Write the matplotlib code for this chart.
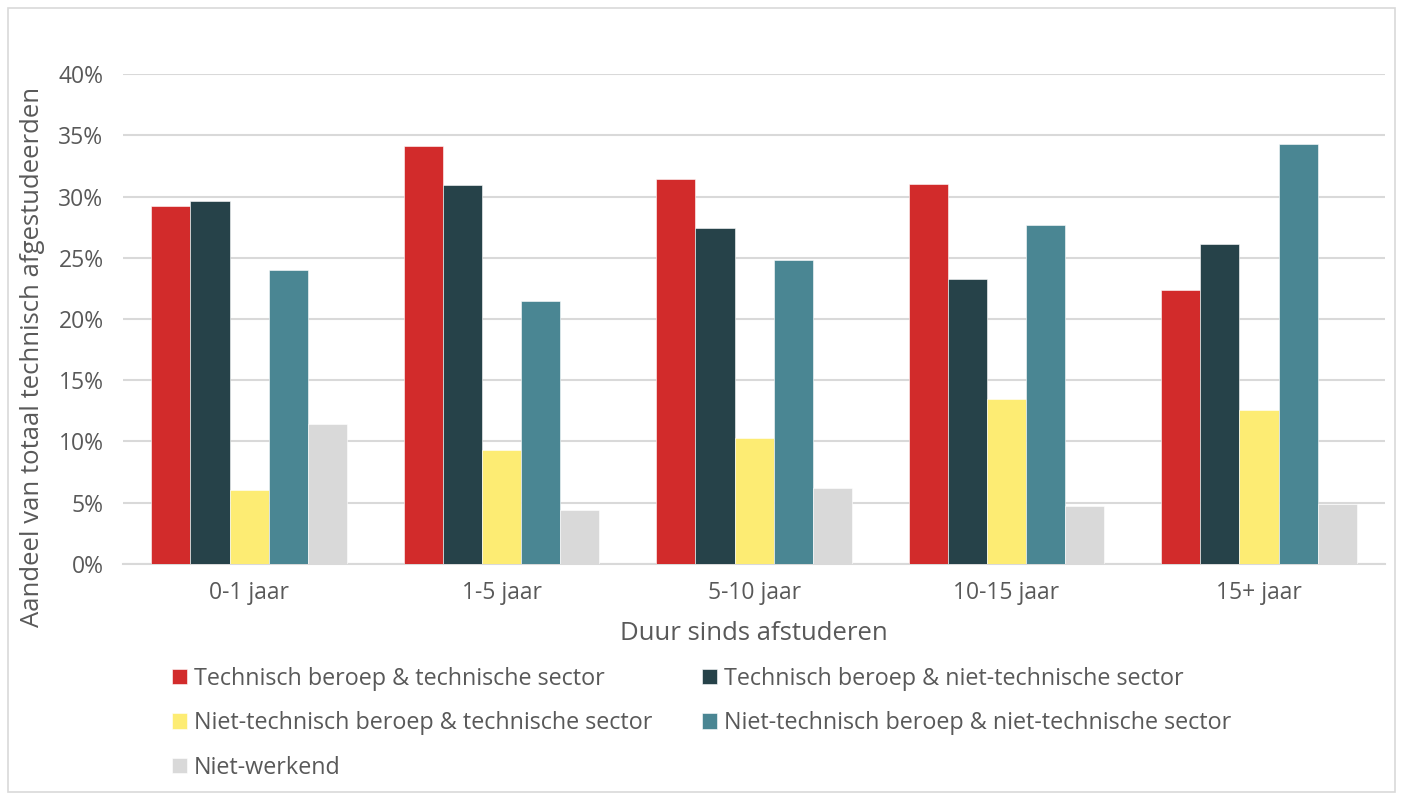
import numpy as np
import matplotlib.pyplot as plt
from matplotlib.patches import Rectangle

plt.rcParams['font.family'] = ['Open Sans', 'DejaVu Sans']

categories = ["0-1 jaar", "1-5 jaar", "5-10 jaar", "10-15 jaar", "15+ jaar"]
series_names = [
    "Technisch beroep & technische sector",
    "Technisch beroep & niet-technische sector",
    "Niet-technisch beroep & technische sector",
    "Niet-technisch beroep & niet-technische sector",
    "Niet-werkend",
]
tech_tech = [29.2, 34.1, 31.4, 31.0, 22.4]
tech_niet = [29.6, 30.9, 27.4, 23.3, 26.1]
niet_tech = [6.0, 9.3, 10.3, 13.5, 12.6]
niet_niet = [24.0, 21.5, 24.8, 27.7, 34.3]
niet_werkend = [11.4, 4.4, 6.2, 4.7, 4.9]
colors = ["#D22B2B", "#264249", "#FDEC73", "#4A8693", "#D9D9D9"]

series = [tech_tech, tech_niet, niet_tech, niet_niet, niet_werkend]
text_col = "#595959"

fig = plt.figure(figsize=(14.02, 7.96), dpi=100)
ax = fig.add_axes([0.0877, 0.2915, 0.9003, 0.6155])

x = np.arange(len(categories))
w = 0.155
handles = []
for i, (vals, c) in enumerate(zip(series, colors)):
    b = ax.bar(x + (i - 2) * w, vals, w, color=c, edgecolor="white", linewidth=0.4,
               label=series_names[i], zorder=3)
    handles.append(b)

ax.set_xlim(-0.5, 4.5)
ax.set_ylim(0, 40)
ax.set_yticks(range(0, 41, 5))
ax.set_yticklabels([f"{v}%" for v in range(0, 41, 5)])
ax.set_xticks(x)
ax.set_xticklabels(categories)
ax.grid(axis="y", color="#D9D9D9", linewidth=1.5, zorder=0)
for s in ["top", "right", "left"]:
    ax.spines[s].set_visible(False)
ax.spines["bottom"].set_color("#D9D9D9")
ax.spines["bottom"].set_linewidth(1.5)
ax.tick_params(axis="both", length=0, labelsize=16.5, colors=text_col)
ax.tick_params(axis="y", pad=14)
ax.tick_params(axis="x", pad=12)
ax.set_xlabel("Duur sinds afstuderen", fontsize=18.5, color=text_col, va="center")
ax.xaxis.set_label_coords(0.5, -0.141)
ax.set_ylabel("Aandeel van totaal technisch afgestudeerden", fontsize=18.5,
              color=text_col, va="center")
ax.yaxis.set_label_coords(-0.072, 0.422)

order = [0, 2, 4, 1, 3]
leg = fig.legend([handles[i] for i in order], [series_names[i] for i in order],
                 loc="upper left", bbox_to_anchor=(0.116, 0.174), ncol=2,
                 frameon=False, fontsize=16.8, handlelength=0.65, handleheight=0.65,
                 handletextpad=0.3, columnspacing=2.1, labelspacing=0.88,
                 borderaxespad=0)
for t in leg.get_texts():
    t.set_color(text_col)

fig.patches.append(Rectangle((0.006, 0.005), 0.989, 0.985, transform=fig.transFigure,
                             fill=False, edgecolor="#D9D9D9", linewidth=1.2))

fig.savefig("out.png", dpi=100)
